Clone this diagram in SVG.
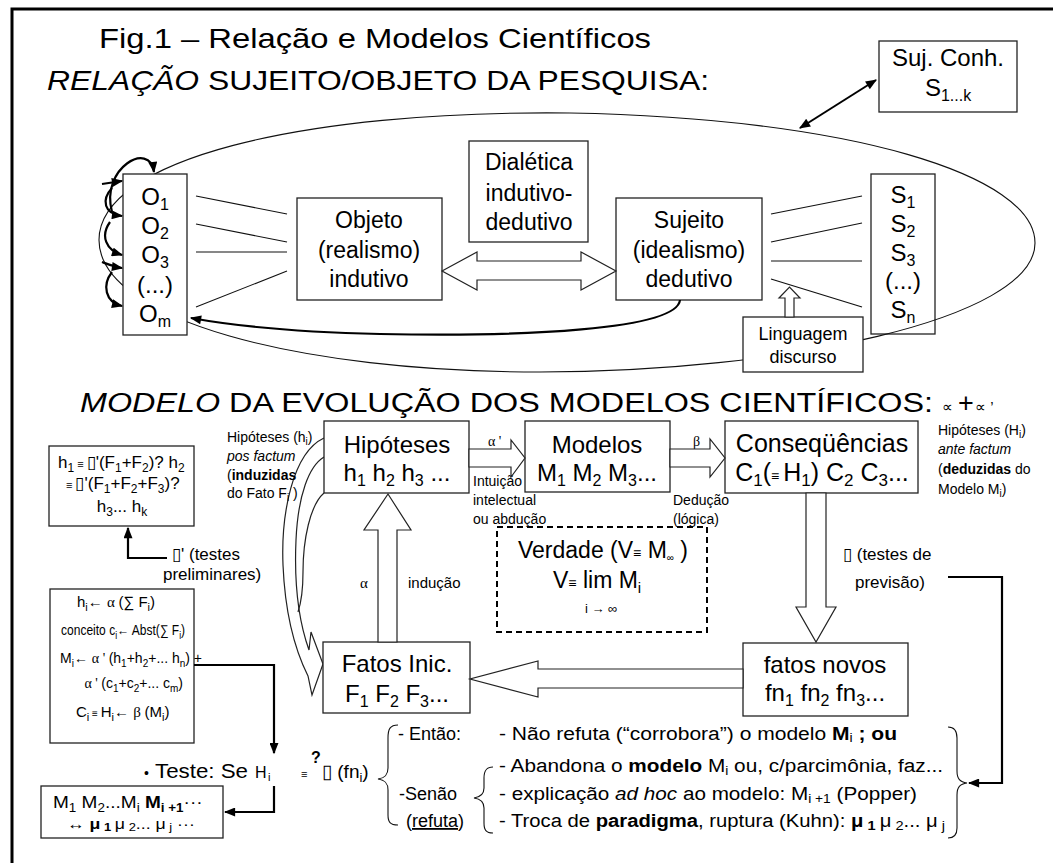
<svg xmlns="http://www.w3.org/2000/svg" width="1053" height="863" viewBox="0 0 1053 863">
<style>
text{font-family:"Liberation Sans",Arial,Helvetica,sans-serif;fill:#000}
.box{fill:#fff;stroke:#222;stroke-width:1.3}
.open{fill:none;stroke:#222;stroke-width:1.3}
.blk{fill:#fff;stroke:#222;stroke-width:1.2;stroke-linejoin:miter}
.thin{fill:none;stroke:#111;stroke-width:1.1}
.wire{fill:none;stroke:#000;stroke-width:2.2}
.c{text-anchor:middle}
.e{text-anchor:end}
.gr{font-family:"Liberation Serif","Times New Roman",serif}
.b{font-weight:bold}
.i{font-style:italic}
</style>
<defs>
<marker id="ah" viewBox="0 0 10 8" refX="9" refY="4" markerWidth="12" markerHeight="9" markerUnits="userSpaceOnUse" orient="auto-start-reverse"><path d="M0,0 L10,4 L0,8 Z" fill="#000"/></marker>
</defs>
<rect x="0" y="0" width="1053" height="863" fill="#fff"/>
<!-- page frame -->
<path d="M12,880 V9 H1070" fill="none" stroke="#000" stroke-width="3"/>

<!-- headings -->
<text x="99" y="48" font-size="28" textLength="552" lengthAdjust="spacingAndGlyphs">Fig.1 – Relação e Modelos Científicos</text>
<text x="47" y="90" font-size="28" textLength="662" lengthAdjust="spacingAndGlyphs"><tspan class="i">RELAÇÃO</tspan> SUJEITO/OBJETO DA PESQUISA:</text>
<text x="80" y="412" font-size="27" textLength="853" lengthAdjust="spacingAndGlyphs"><tspan class="i">MODELO</tspan> DA EVOLUÇÃO DOS MODELOS CIENTÍFICOS:</text>
<text x="942" y="412" font-size="15">∝</text>
<text x="958" y="412" font-size="27">+</text>
<text x="975" y="412" font-size="15">∝ ’</text>

<!-- subject set: outline only, the ellipse runs across it -->
<g id="sujeitos">
<rect class="open" x="871" y="174" width="64" height="160"/>
<text class="c" x="903" y="203" font-size="24">S<tspan font-size="16" dy="5">1</tspan></text>
<text class="c" x="903" y="232" font-size="24">S<tspan font-size="16" dy="5">2</tspan></text>
<text class="c" x="903" y="261" font-size="24">S<tspan font-size="16" dy="5">3</tspan></text>
<text class="c" x="903" y="289" font-size="24">(...)</text>
<text class="c" x="903" y="318" font-size="24">S<tspan font-size="16" dy="5">n</tspan></text>
</g>

<!-- research relation: ellipse -->
<path class="thin" d="M1035,243 C1035,175 850,118 570,113 C300,110 99,160 99,240 C99,320 300,372 540,372 C780,372 1035,320 1035,243 Z"/>

<g id="suj-conh">
<rect class="box" x="879" y="41" width="138" height="71"/>
<text class="c" x="948" y="66" font-size="24">Suj. Conh.</text>
<text class="c" x="948" y="96" font-size="24">S<tspan font-size="16" dy="5">1...k</tspan></text>
</g>

<g id="objetos">
<rect class="box" x="123" y="174" width="64" height="161"/>
<text class="c" x="155" y="205" font-size="24">O<tspan font-size="16" dy="5">1</tspan></text>
<text class="c" x="155" y="234" font-size="24">O<tspan font-size="16" dy="5">2</tspan></text>
<text class="c" x="155" y="263" font-size="24">O<tspan font-size="16" dy="5">3</tspan></text>
<text class="c" x="155" y="293" font-size="24">(...)</text>
<text class="c" x="155" y="322" font-size="24">O<tspan font-size="16" dy="5">m</tspan></text>
</g>

<g id="objeto">
<rect class="box" x="297" y="198" width="145" height="102"/>
<text class="c" x="369" y="228" font-size="23">Objeto</text>
<text class="c" x="369" y="258" font-size="23">(realismo)</text>
<text class="c" x="369" y="287" font-size="23">indutivo</text>
</g>

<g id="dialetica">
<rect class="box" x="469" y="141" width="119" height="101"/>
<text class="c" x="529" y="170" font-size="23">Dialética</text>
<text class="c" x="529" y="201" font-size="23">indutivo-</text>
<text class="c" x="529" y="230" font-size="23">dedutivo</text>
</g>

<g id="sujeito">
<rect class="box" x="616" y="198" width="146" height="102"/>
<text class="c" x="689" y="228" font-size="23">Sujeito</text>
<text class="c" x="689" y="258" font-size="23">(idealismo)</text>
<text class="c" x="689" y="287" font-size="23">dedutivo</text>
</g>

<g id="linguagem">
<rect class="box" x="743" y="317" width="120" height="55"/>
<text class="c" x="803" y="340" font-size="18">Linguagem</text>
<text class="c" x="803" y="363" font-size="18">discurso</text>
</g>

<!-- curved return arrow from the initial facts up to the hypotheses -->
<g id="retorno" fill="none" stroke="#222" stroke-width="1.2">
<path d="M324,438 C292,453 281,515 283,565 C285,612 295,650 308,676 L312,695 L323,664 L311,632 L309,650 C299,622 294,585 296,540 C298,495 309,466 324,457"/>
<path d="M324,493 C310,505 303,540 303,572 C303,592 300,606 298,612"/>
</g>

<!-- evolution model -->
<g id="hipoteses">
<rect class="box" x="324" y="421" width="145" height="72"/>
<text class="c" x="397" y="453" font-size="24">Hipóteses</text>
<text class="c" x="397" y="481" font-size="24">h<tspan font-size="16" dy="5">1</tspan><tspan dy="-5"> h</tspan><tspan font-size="16" dy="5">2</tspan><tspan dy="-5"> h</tspan><tspan font-size="16" dy="5">3</tspan><tspan dy="-5"> ...</tspan></text>
</g>

<g id="modelos">
<rect class="box" x="525" y="421" width="145" height="71"/>
<text class="c" x="597" y="453" font-size="24">Modelos</text>
<text class="c" x="597" y="481" font-size="24">M<tspan font-size="16" dy="5">1</tspan><tspan dy="-5"> M</tspan><tspan font-size="16" dy="5">2</tspan><tspan dy="-5"> M</tspan><tspan font-size="16" dy="5">3</tspan><tspan dy="-5">...</tspan></text>
</g>

<g id="consequencias">
<rect class="box" x="725" y="421" width="193" height="72"/>
<text class="c" x="822" y="452" font-size="25">Conseqüências</text>
<text class="c" x="822" y="481" font-size="25">C<tspan font-size="17" dy="5">1</tspan><tspan dy="-5">(</tspan><tspan font-size="14">≡ </tspan>H<tspan font-size="17" dy="5">1</tspan><tspan dy="-5">) C</tspan><tspan font-size="17" dy="5">2</tspan><tspan dy="-5"> C</tspan><tspan font-size="17" dy="5">3</tspan><tspan dy="-5">...</tspan></text>
</g>

<g id="verdade">
<rect x="497" y="527" width="210" height="105" fill="#fff" stroke="#000" stroke-width="2" stroke-dasharray="6 4"/>
<text class="c" x="603" y="558" font-size="23">Verdade (V<tspan font-size="14">≡</tspan>  M<tspan font-size="10" dy="3">∞</tspan><tspan dy="-3"> )</tspan></text>
<text x="553" y="588" font-size="23">V<tspan font-size="14">≡</tspan>  lim M<tspan font-size="15" dy="5">i</tspan></text>
<text x="585" y="613" font-size="13">i →  ∞</text>
</g>

<g id="fatos-iniciais">
<rect class="box" x="323" y="642" width="147" height="71"/>
<text class="c" x="397" y="672" font-size="24">Fatos Inic.</text>
<text class="c" x="397" y="702" font-size="24">F<tspan font-size="16" dy="5">1</tspan><tspan dy="-5"> F</tspan><tspan font-size="16" dy="5">2</tspan><tspan dy="-5"> F</tspan><tspan font-size="16" dy="5">3</tspan><tspan dy="-5">...</tspan></text>
</g>

<g id="fatos-novos">
<rect class="box" x="743" y="643" width="165" height="73"/>
<text class="c" x="825" y="673" font-size="24">fatos novos</text>
<text class="c" x="825" y="701" font-size="24">fn<tspan font-size="16" dy="5">1</tspan><tspan dy="-5"> fn</tspan><tspan font-size="16" dy="5">2</tspan><tspan dy="-5"> fn</tspan><tspan font-size="16" dy="5">3</tspan><tspan dy="-5">...</tspan></text>
</g>

<g id="hipoteses-preliminares">
<rect class="box" x="49" y="446" width="145" height="80"/>
<text x="58" y="468" font-size="17">h<tspan font-size="12" dy="4">1</tspan><tspan dy="-4" font-size="11"> ≡ </tspan>▯'(F<tspan font-size="12" dy="4">1</tspan><tspan dy="-4">+F</tspan><tspan font-size="12" dy="4">2</tspan><tspan dy="-4">)?  h</tspan><tspan font-size="12" dy="4">2</tspan></text>
<text x="66" y="489" font-size="17"><tspan font-size="11">≡ </tspan> ▯'(F<tspan font-size="12" dy="4">1</tspan><tspan dy="-4">+F</tspan><tspan font-size="12" dy="4">2</tspan><tspan dy="-4">+F</tspan><tspan font-size="12" dy="4">3</tspan><tspan dy="-4">)?</tspan></text>
<text class="c" x="122" y="512" font-size="17">h<tspan font-size="12" dy="4">3</tspan><tspan dy="-4">... h</tspan><tspan font-size="12" dy="4">k</tspan></text>
</g>

<g id="formulas">
<rect class="box" x="50" y="589" width="144" height="154"/>
<text x="77" y="607" font-size="15">h<tspan font-size="11" dy="4">i</tspan><tspan dy="-4">← </tspan><tspan class="gr"> α </tspan> (∑ F<tspan font-size="11" dy="4">i</tspan><tspan dy="-4">)</tspan></text>
<text transform="translate(61,635) scale(0.86,1)" x="0" y="0" font-size="14">conceito c<tspan font-size="10" dy="4">i</tspan><tspan dy="-4">← Abst(∑ F</tspan><tspan font-size="10" dy="4">i</tspan><tspan dy="-4">)</tspan></text>
<text x="60" y="663" font-size="14">M<tspan font-size="10" dy="4">i</tspan><tspan dy="-4">← </tspan><tspan class="gr"> α ' </tspan>(h<tspan font-size="10" dy="4">1</tspan><tspan dy="-4">+h</tspan><tspan font-size="10" dy="4">2</tspan><tspan dy="-4">+... h</tspan><tspan font-size="10" dy="4">n</tspan><tspan dy="-4">) +</tspan></text>
<text class="e" x="183" y="688" font-size="14"><tspan class="gr">α ' </tspan>(c<tspan font-size="10" dy="4">1</tspan><tspan dy="-4">+c</tspan><tspan font-size="10" dy="4">2</tspan><tspan dy="-4">+... c</tspan><tspan font-size="10" dy="4">m</tspan><tspan dy="-4">)</tspan></text>
<text x="76" y="717" font-size="15">C<tspan font-size="11" dy="4">i</tspan><tspan dy="-4" font-size="10"> ≡ </tspan> H<tspan font-size="11" dy="4">i</tspan><tspan dy="-4">← </tspan><tspan class="gr"> β </tspan> (M<tspan font-size="11" dy="4">i</tspan><tspan dy="-4">)</tspan></text>
</g>

<g id="sequencia-modelos">
<rect class="box" x="41" y="786" width="182" height="52"/>
<text transform="translate(53,808) scale(1.12,1)" x="0" y="0" font-size="17">M<tspan font-size="12" dy="4">1</tspan><tspan dy="-4"> M</tspan><tspan font-size="12" dy="4">2</tspan><tspan dy="-4">...M</tspan><tspan font-size="12" dy="4">i</tspan><tspan dy="-4" class="b"> M</tspan><tspan font-size="12" dy="4" class="b">i +1</tspan><tspan dy="-4">···</tspan></text>
<text transform="translate(67,829) scale(1.18,1)" x="0" y="0" font-size="15">↔  <tspan class="b">μ</tspan><tspan class="b" font-size="11" dy="2"> 1 </tspan><tspan dy="-2">μ</tspan><tspan font-size="11" dy="2"> 2</tspan><tspan dy="-2">... μ</tspan><tspan font-size="11" dy="2"> j</tspan><tspan dy="-2"> ···</tspan></text>
</g>

<!-- side notes -->
<g font-size="14">
<text x="227" y="442">Hipóteses (h<tspan font-size="10" dy="3">i</tspan><tspan dy="-3">)</tspan></text>
<text x="227" y="461" class="i">pos factum</text>
<text x="227" y="480">(<tspan class="b">induzidas</tspan></text>
<text x="227" y="498">do Fato F<tspan font-size="10" dy="3">i</tspan><tspan dy="-3"> )</tspan></text>
<text x="938" y="435">Hipóteses (H<tspan font-size="10" dy="3">i</tspan><tspan dy="-3">)</tspan></text>
<text x="938" y="454" class="i">ante factum</text>
<text x="938" y="474">(<tspan class="b">deduzidas</tspan> do</text>
<text x="938" y="494">Modelo M<tspan font-size="10" dy="3">i</tspan><tspan dy="-3">)</tspan></text>
<text x="473" y="486">Intuição</text>
<text x="473" y="505">intelectual</text>
<text x="473" y="524">ou abdução</text>
<text x="673" y="505">Dedução</text>
<text x="673" y="524">(lógica)</text>
<text x="488" y="446" class="gr">α '</text>
<text x="693" y="446" class="gr">β</text>
</g>
<text x="360" y="588" font-size="15" class="gr">α</text>
<text x="408" y="588" font-size="15">indução</text>
<text x="172" y="560" font-size="17">▯' (testes</text>
<text x="163" y="580" font-size="17">preliminares)</text>
<text x="843" y="560" font-size="17">▯ (testes de</text>
<text x="855" y="588" font-size="17">previsão)</text>

<!-- test and its outcomes -->
<text x="144" y="778" font-size="14">•</text>
<text x="155" y="778" font-size="21" textLength="93" lengthAdjust="spacingAndGlyphs">Teste: Se</text>
<text x="255" y="778" font-size="16">H</text>
<text x="268" y="781" font-size="11">i</text>
<text x="301" y="778" font-size="11">≡</text>
<text x="311" y="763" font-size="16" class="b">?</text>
<text x="322" y="778" font-size="19">▯ (fn<tspan font-size="13" dy="4">i</tspan><tspan dy="-4">)</tspan></text>

<text x="398" y="740" font-size="18">- Então:</text>
<text x="499" y="740" font-size="18" textLength="398" lengthAdjust="spacingAndGlyphs">- Não refuta (“corrobora”) o modelo <tspan class="b">M</tspan><tspan font-size="12" dy="2">i</tspan><tspan dy="-2" class="b">  ; ou</tspan></text>
<text x="399" y="800" font-size="18">-Senão</text>
<text x="406" y="827" font-size="18">(<tspan text-decoration="underline">refuta</tspan>)</text>
<text x="499" y="772" font-size="18" textLength="444" lengthAdjust="spacingAndGlyphs">- Abandona o <tspan class="b">modelo</tspan> M<tspan font-size="12" dy="3">i</tspan><tspan dy="-3"> ou, c/parcimônia, faz...</tspan></text>
<text x="499" y="800" font-size="18" textLength="418" lengthAdjust="spacingAndGlyphs">- explicação <tspan class="i">ad hoc</tspan> ao modelo: M<tspan font-size="12" dy="3">i +1</tspan><tspan dy="-3"> (Popper)</tspan></text>
<text x="499" y="827" font-size="18" textLength="446" lengthAdjust="spacingAndGlyphs">- Troca de <tspan class="b">paradigma</tspan>, ruptura (Kuhn): <tspan class="b">μ</tspan><tspan class="b" font-size="13" dy="3"> 1 </tspan><tspan dy="-3">μ</tspan><tspan font-size="13" dy="3"> 2</tspan><tspan dy="-3">... μ</tspan><tspan font-size="13" dy="3"> j</tspan></text>

<g id="braces" class="thin">
<path d="M398,725 C390,725 388,729 388,738 L388,768 C388,775 385,778 378,779 C385,780 388,783 388,790 L388,815 C388,822 390,825 398,825"/>
<path d="M493,767 C486,767 484,771 484,778 L484,788 C484,794 481,797 474,798 C481,799 484,802 484,808 L484,823 C484,830 486,833 493,833"/>
<path d="M948,727 C954,727 957,731 957,738 L957,771 C957,779 960,782 967,783 C960,784 957,787 957,795 L957,828 C957,835 954,838 948,838"/>
</g>

<g id="connectors">
<!-- object and subject links -->
<g class="thin">
<line x1="196" y1="196" x2="287" y2="214"/>
<line x1="196" y1="224" x2="287" y2="242"/>
<line x1="196" y1="252" x2="287" y2="252"/>
<line x1="196" y1="307" x2="287" y2="271"/>
<line x1="771" y1="214" x2="862" y2="196"/>
<line x1="771" y1="242" x2="862" y2="223"/>
<line x1="771" y1="261" x2="862" y2="261"/>
<line x1="771" y1="279" x2="862" y2="307"/>
</g>
<line x1="800" y1="128" x2="876" y2="80" stroke="#000" stroke-width="2" marker-start="url(#ah)" marker-end="url(#ah)"/>
<path class="wire" d="M680,300 C677,330 520,337 380,334 C290,332 235,326 191,318" marker-end="url(#ah)"/>
<!-- loops among the objects -->
<path class="wire" d="M112,212 C100,168 150,140 154,172" marker-end="url(#ah)"/>
<path class="wire" d="M102,184 L122,181" marker-end="url(#ah)"/>
<path class="wire" d="M112,188 C101,200 104,214 122,216" marker-end="url(#ah)"/>
<path class="wire" d="M110,222 C100,236 106,250 122,255" marker-end="url(#ah)"/>
<path class="wire" d="M102,262 C110,265 115,267 122,268" marker-end="url(#ah)"/>
<path class="wire" d="M112,272 C102,285 105,302 122,306" marker-end="url(#ah)"/>
<!-- block arrows -->
<polygon class="blk" points="442,271 477,252 477,261 581,261 581,252 616,271 581,290 581,280 477,280 477,290"/>
<polygon class="blk" points="785,317 785,298 779,298 789.5,287 800,298 794,298 794,317"/>
<polygon class="blk" points="469,449 511,449 511,440 525,458 511,477 511,467 469,467"/>
<polygon class="blk" points="670,449 710,449 710,439 725,458 710,477 710,467 670,467"/>
<polygon class="blk" points="388,494 411,530 397,530 397,642 378,642 378,530 364,530"/>
<polygon class="blk" points="806,493 826,493 826,607 836,607 816,642 796,607 806,607"/>
<polygon class="blk" points="743,669 538,669 538,661 470,679 538,697 538,688 743,688"/>
<!-- test flow -->
<path class="wire" d="M167,558 H128 V528" marker-end="url(#ah)"/>
<path class="wire" d="M194,665 H274 V753" marker-end="url(#ah)"/>
<path class="wire" d="M274,786 V812 H225" marker-end="url(#ah)"/>
<path class="wire" d="M948,577 H1002 V783 H969" marker-end="url(#ah)"/>
</g>
</svg>
